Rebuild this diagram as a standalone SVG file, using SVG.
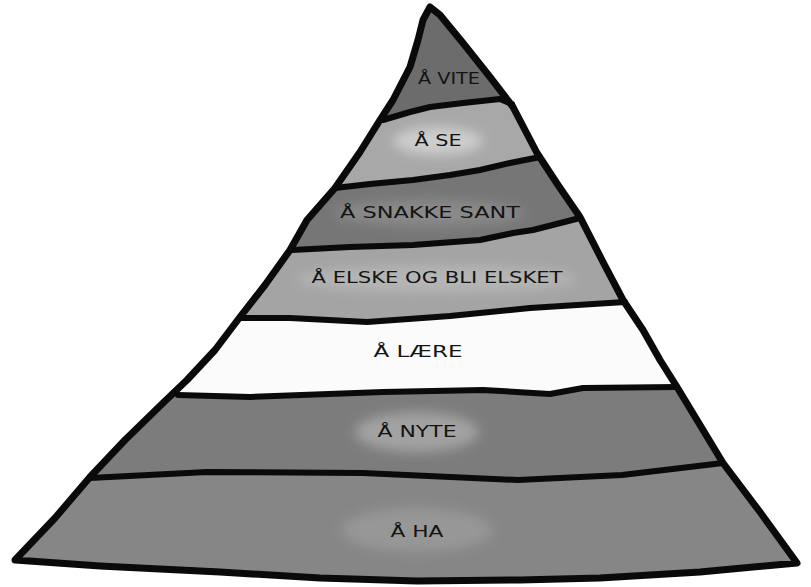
<svg xmlns="http://www.w3.org/2000/svg" width="811" height="587" viewBox="0 0 811 587">
<style>
.lbl{font-family:"DejaVu Sans","Liberation Sans",sans-serif;font-size:15px;fill:#141414;text-anchor:middle;dominant-baseline:central}
.bnd{fill:none;stroke:#0a0a0a;stroke-width:6;stroke-linejoin:round;stroke-linecap:round}
.out{fill:none;stroke:#0a0a0a;stroke-width:7;stroke-linejoin:round;stroke-linecap:round}
</style>
<defs>
<clipPath id="pyr">
<path id="outline" d="M430,7 L440,15 L463,43 L490,77 L513,107 L537,153 L558,185 L580,217 L603,262 L623,300 L643,330 L660,360 L677,387 L700,425 L723,463 L760,512 L797,563 L700,572 L600,578 L520,580 L417,581 L320,578 L220,572 L100,566 L15,560 L55,518 L90,477 L125,440 L163,403 L187,380 L215,350 L240,317 L265,285 L290,250 L307,220 L335,188 L360,152 L380,120 L393,100 L410,67 L418,40 L423,20 Z"/>
</clipPath>
<filter id="soft" x="-50%" y="-100%" width="200%" height="300%"><feGaussianBlur stdDeviation="6"/></filter>
</defs>
<rect width="811" height="587" fill="#ffffff"/>
<g clip-path="url(#pyr)">
<g id="layer-ha">
<rect x="0" y="0" width="811" height="587" fill="#868686"/>
<ellipse cx="417" cy="530" rx="75" ry="22" fill="#979797" filter="url(#soft)"/>
</g>
<g id="layer-nyte">
<path d="M0,478 L90,478 L207,472 L363,473 L518,480 L622,475 L723,463 L811,463 L811,0 L0,0 Z" fill="#7c7c7c"/>
<ellipse cx="417" cy="432" rx="62" ry="20" fill="#a2a2a2" filter="url(#soft)"/>
</g>
<g id="layer-laere">
<path d="M0,395 L178,395 L250,397 L383,392 L483,390 L550,394 L583,388 L677,387 L811,387 L811,0 L0,0 Z" fill="#fbfbfb"/>
</g>
<g id="layer-elske">
<path d="M0,318 L240,318 L290,318 L367,322 L450,316 L530,308 L625,302 L811,302 L811,0 L0,0 Z" fill="#a4a4a4"/>
<ellipse cx="437" cy="279" rx="140" ry="13" fill="#b6b6b6" filter="url(#soft)"/>
</g>
<g id="layer-snakke">
<path d="M0,250 L292,250 L350,247 L413,245 L480,240 L513,233 L533,230 L580,218 L811,218 L811,0 L0,0 Z" fill="#767676"/>
<ellipse cx="430" cy="213" rx="95" ry="13" fill="#8a8a8a" filter="url(#soft)"/>
</g>
<g id="layer-se">
<path d="M0,188 L335,188 L370,184 L413,180 L450,175 L480,170 L510,163 L540,157 L811,157 L811,0 L0,0 Z" fill="#a8a8a8"/>
<ellipse cx="438" cy="141" rx="45" ry="14" fill="#cdcdcd" filter="url(#soft)"/>
</g>
<g id="layer-vite">
<path d="M0,120 L383,120 L410,112 L430,107 L463,103 L500,99 L512,104 L811,104 L811,0 L0,0 Z" fill="#6c6c6c"/>
</g>
</g>
<g id="connectors">
<polyline class="bnd" points="383,120 410,112 430,107 463,103 500,99 512,104"/>
<polyline class="bnd" points="335,188 370,184 413,180 450,175 480,170 510,163 540,157"/>
<polyline class="bnd" points="292,250 350,247 413,245 480,240 513,233 533,230 580,218"/>
<polyline class="bnd" points="240,318 290,318 367,322 450,316 530,308 625,302"/>
<polyline class="bnd" points="178,395 250,397 383,392 483,390 550,394 583,388 677,387"/>
<polyline class="bnd" points="90,478 207,472 363,473 518,480 622,475 723,463"/>
<use href="#outline" class="out"/>
</g>
<g id="labels">
<text class="lbl" x="449" y="79" textLength="62" lengthAdjust="spacingAndGlyphs">Å VITE</text>
<text class="lbl" x="438" y="141" textLength="47" lengthAdjust="spacingAndGlyphs">Å SE</text>
<text class="lbl" x="430" y="213" textLength="180" lengthAdjust="spacingAndGlyphs">Å SNAKKE SANT</text>
<text class="lbl" x="437" y="278" textLength="251" lengthAdjust="spacingAndGlyphs">Å ELSKE OG BLI ELSKET</text>
<text class="lbl" x="418" y="352" textLength="89" lengthAdjust="spacingAndGlyphs">Å LÆRE</text>
<text class="lbl" x="417" y="432" textLength="79" lengthAdjust="spacingAndGlyphs">Å NYTE</text>
<text class="lbl" x="417" y="532" textLength="53" lengthAdjust="spacingAndGlyphs">Å HA</text>
</g>
</svg>
